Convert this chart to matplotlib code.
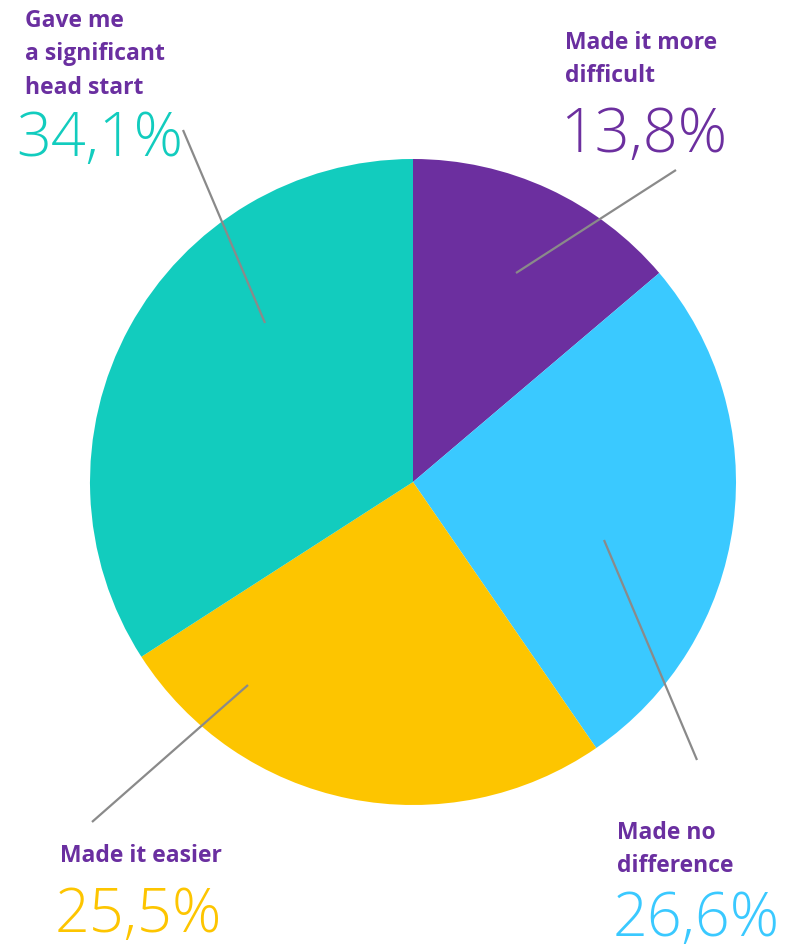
import matplotlib
matplotlib.use("Agg")
import matplotlib.pyplot as plt

categories = ["Made it more difficult", "Made no difference", "Made it easier", "Gave me a significant head start"]
values = [13.8, 26.6, 25.5, 34.1]
value_labels = ["13,8%", "26,6%", "25,5%", "34,1%"]
colors = ["#6C2F9F", "#3AC9FF", "#FDC500", "#12CCBE"]
label_text = ["Made it more\ndifficult", "Made no\ndifference", "Made it easier", "Gave me\na significant\nhead start"]

W, H = 809, 951
fig = plt.figure(figsize=(W / 100, H / 100), dpi=100)
fig.patch.set_facecolor("white")

cx, cy, r = 413, 482, 323
ax = fig.add_axes([(cx - r) / W, (H - cy - r) / H, 2 * r / W, 2 * r / H])
ax.pie(values, colors=colors, startangle=90, counterclock=False, radius=1,
       wedgeprops=dict(linewidth=0))
ax.set_xlim(-1, 1)
ax.set_ylim(-1, 1)
ax.set_aspect("equal")
ax.axis("off")

ov = fig.add_axes([0, 0, 1, 1], zorder=5)
ov.set_xlim(0, W)
ov.set_ylim(H, 0)
ov.axis("off")
ov.patch.set_alpha(0)

purple_text = "#6A2FA0"

# leader lines (pixel coords)
leaders = [((676, 170), (516, 273)), ((604, 540), (697, 760)),
           ((248, 685), (92, 822)), ((183, 130), (265, 323))]
for (x0, y0), (x1, y1) in leaders:
    ov.plot([x0, x1], [y0, y1], color="#8A8A8A", lw=1.6, solid_capstyle="butt")

# label positions: (x, y_top of category text, x, y_top of number)
label_pos = [(565, 31, 560, 106), (617, 821, 613, 889), (60, 844, 55, 885), (25, 9, 16, 110)]
for i in range(len(categories)):
    lx, ly, nx, ny = label_pos[i]
    ov.text(lx, ly, label_text[i], color=purple_text, fontsize=16.5, fontweight="bold",
            family="Open Sans", va="top", ha="left", linespacing=1.52)
    ov.text(nx, ny, value_labels[i], color=colors[i], fontsize=44, fontweight="light",
            family="Open Sans", va="top", ha="left")

fig.savefig("out.png", dpi=100, facecolor="white")
